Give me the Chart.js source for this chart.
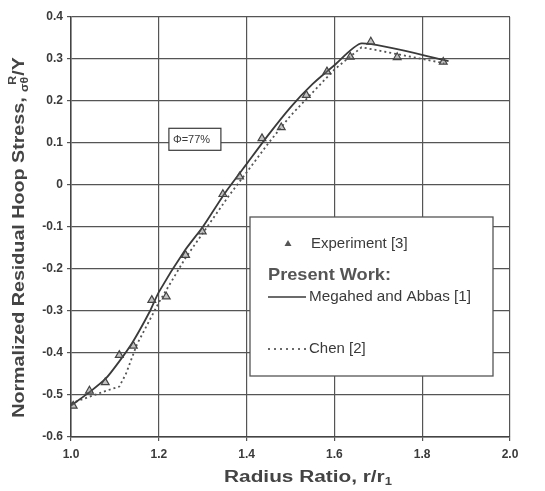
<!DOCTYPE html>
<html>
<head>
<meta charset="utf-8">
<script src="https://cdn.jsdelivr.net/npm/chart.js@4"></script>
<style>
html, body { margin: 0; padding: 0; background: #fff; }
#wrap { width: 545px; height: 491px; }
</style>
</head>
<body>
<div id="wrap"><canvas id="hoopChart" width="545" height="491"></canvas></div>
<script>
// experiment [3]
const expRatio = [1.005, 1.042, 1.078, 1.11, 1.142, 1.184, 1.217, 1.261, 1.299, 1.346, 1.384, 1.435, 1.479, 1.536, 1.583, 1.636, 1.683, 1.743, 1.848];
const expStress = [-0.526, -0.49, -0.47, -0.405, -0.383, -0.274, -0.266, -0.167, -0.111, -0.022, 0.02, 0.111, 0.137, 0.214, 0.27, 0.305, 0.341, 0.304, 0.293];

// Megahed and Abbas [1]
const megRatio = [1.0, 1.04, 1.08, 1.11, 1.14, 1.18, 1.2, 1.26, 1.3, 1.35, 1.4, 1.45, 1.5, 1.55, 1.6, 1.662, 1.86];
const megStress = [-0.525, -0.495, -0.46, -0.42, -0.375, -0.30, -0.255, -0.155, -0.10, -0.02, 0.05, 0.12, 0.185, 0.24, 0.285, 0.337, 0.295];

// Chen [2]
const chenRatio = [1.0, 1.04, 1.08, 1.11, 1.125, 1.15, 1.2, 1.26, 1.3, 1.36, 1.4, 1.45, 1.5, 1.55, 1.6, 1.662, 1.85];
const chenStress = [-0.52, -0.505, -0.49, -0.48, -0.45, -0.38, -0.28, -0.175, -0.115, -0.025, 0.03, 0.10, 0.165, 0.22, 0.275, 0.328, 0.29];

const seriesNames = ["Experiment [3]", "Megahed and Abbas [1]", "Chen [2]"];
const groupTitle = "Present Work:";
const noteText = "\u03A6=77%";
const xTitle = "Radius Ratio, r/r";

const xMin = 1.0, xMax = 2.0, xStep = 0.2;
const yMin = -0.6, yMax = 0.4, yStep = 0.1;

const ink = "#3a3a3a";
const face = "'Liberation Sans', Arial";

function toPoints(xs, ys) {
    return xs.map((x, i) => ({ x: x, y: ys[i] }));
}

// text squeezed/stretched sideways, like the scan
function wideText(ctx, text, x, y, sx) {
    ctx.save();
    ctx.translate(x, y);
    ctx.scale(sx, 1);
    ctx.fillText(text, 0, 0);
    ctx.restore();
    return ctx.measureText(text).width * sx;
}

const extras = {
    id: "extras",
    afterDraw(chart) {
        const ctx = chart.ctx;
        const xs = chart.scales.x;
        const ys = chart.scales.y;
        ctx.save();

        // note box
        const nx = xs.getPixelForValue(1.223);
        const ny = ys.getPixelForValue(0.135);
        ctx.fillStyle = "#fff";
        ctx.strokeStyle = ink;
        ctx.lineWidth = 1.2;
        ctx.fillRect(nx, ny, 52, 22);
        ctx.strokeRect(nx, ny, 52, 22);
        ctx.fillStyle = ink;
        ctx.font = "11px " + face;
        ctx.textAlign = "left";
        ctx.textBaseline = "middle";
        ctx.fillText(noteText, nx + 4, ny + 12);

        // legend box
        const lx = 250, ly = 217, lw = 243, lh = 159;
        ctx.fillStyle = "#fff";
        ctx.fillRect(lx, ly, lw, lh);
        ctx.strokeStyle = "#555";
        ctx.lineWidth = 1.3;
        ctx.strokeRect(lx, ly, lw, lh);

        ctx.fillStyle = "#555";
        ctx.beginPath();
        ctx.moveTo(288, 240);
        ctx.lineTo(291.5, 246);
        ctx.lineTo(284.5, 246);
        ctx.closePath();
        ctx.fill();

        ctx.fillStyle = ink;
        ctx.font = "14px " + face;
        wideText(ctx, seriesNames[0], 311, 244, 1.07);
        ctx.font = "bold 17px " + face;
        ctx.fillStyle = "#555";
        wideText(ctx, groupTitle, 268, 275, 1.07);
        ctx.fillStyle = ink;
        ctx.font = "14px " + face;
        wideText(ctx, seriesNames[1], 309, 297, 1.09);
        wideText(ctx, seriesNames[2], 309, 349, 1.07);

        ctx.strokeStyle = ink;
        ctx.lineWidth = 1.5;
        ctx.beginPath();
        ctx.moveTo(268, 297);
        ctx.lineTo(306, 297);
        ctx.stroke();
        ctx.setLineDash([2, 4]);
        ctx.beginPath();
        ctx.moveTo(268, 349);
        ctx.lineTo(306, 349);
        ctx.stroke();
        ctx.setLineDash([]);

        // x axis title
        const bigFont = "bold 16px " + face;
        const smallFont = "bold 10px " + face;
        const sx = 1.3;
        ctx.fillStyle = "#444";
        ctx.font = bigFont;
        const wx = ctx.measureText(xTitle).width * sx;
        ctx.font = smallFont;
        const w1 = ctx.measureText("1").width * sx;
        let px = 308 - (wx + w1) / 2;
        ctx.font = bigFont;
        px += wideText(ctx, xTitle, px, 478, sx);
        ctx.font = smallFont;
        wideText(ctx, "1", px, 482, sx);

        // y axis title with sub/superscript
        const main = "Normalized Residual Hoop Stress,";
        const sy = 1.23;
        ctx.font = bigFont;
        const wMain = ctx.measureText(main + " ").width * sy;
        const wTail = ctx.measureText("/Y").width * sy;
        ctx.font = smallFont;
        const wSub = ctx.measureText("\u03C3\u03B8").width * sy;
        const total = wMain + wSub + wTail;
        ctx.translate(20, 238);
        ctx.rotate(-Math.PI / 2);
        ctx.fillStyle = "#444";
        let cx = -total / 2;
        ctx.font = bigFont;
        wideText(ctx, main, cx, 0, sy);
        cx += wMain;
        ctx.font = smallFont;
        wideText(ctx, "\u03C3\u03B8", cx, 5, sy);
        wideText(ctx, "R", cx + wSub - 8, -7, sy);
        cx += wSub + 1;
        ctx.font = bigFont;
        wideText(ctx, "/Y", cx, 0, sy);

        ctx.restore();
    }
};

const hoopCtx = document.getElementById("hoopChart");

new Chart(hoopCtx, {
    type: "line",
    data: {
        datasets: [
            {
                label: seriesNames[0],
                data: toPoints(expRatio, expStress),
                showLine: false,
                pointStyle: "triangle",
                pointRadius: 4.5,
                pointBackgroundColor: "rgba(120,120,120,0.45)",
                pointBorderColor: "#444",
                pointBorderWidth: 1.2
            },
            {
                label: seriesNames[1],
                data: toPoints(megRatio, megStress),
                borderColor: ink,
                borderWidth: 1.8,
                pointRadius: 0,
                tension: 0.2
            },
            {
                label: seriesNames[2],
                data: toPoints(chenRatio, chenStress),
                borderColor: "#555",
                borderWidth: 1.8,
                borderDash: [2, 3],
                pointRadius: 0,
                tension: 0
            }
        ]
    },
    options: {
        responsive: false,
        animation: false,
        layout: { padding: { top: 17, right: 35, left: 0, bottom: 0 } },
        plugins: {
            legend: { display: false },
            tooltip: { enabled: false }
        },
        scales: {
            x: {
                type: "linear",
                min: xMin,
                max: xMax,
                ticks: {
                    stepSize: xStep,
                    color: ink,
                    font: { family: face, size: 12, weight: "bold" },
                    callback: v => v.toFixed(1),
                    padding: 6
                },
                grid: { color: "#555", lineWidth: 1.2, tickLength: 4 },
                border: { color: "#444", width: 1.5 },
                afterFit: s => { s.height = 54; }
            },
            y: {
                min: yMin,
                max: yMax,
                ticks: {
                    stepSize: yStep,
                    color: ink,
                    font: { family: face, size: 12, weight: "bold" },
                    callback: v => Math.abs(v) < 1e-9 ? "0" : v.toFixed(1),
                    padding: 4
                },
                grid: { color: "#555", lineWidth: 1.2, tickLength: 4 },
                border: { color: "#444", width: 1.5 },
                afterFit: s => { s.width = 71; }
            }
        }
    },
    plugins: [extras]
});
</script>
</body>
</html>
